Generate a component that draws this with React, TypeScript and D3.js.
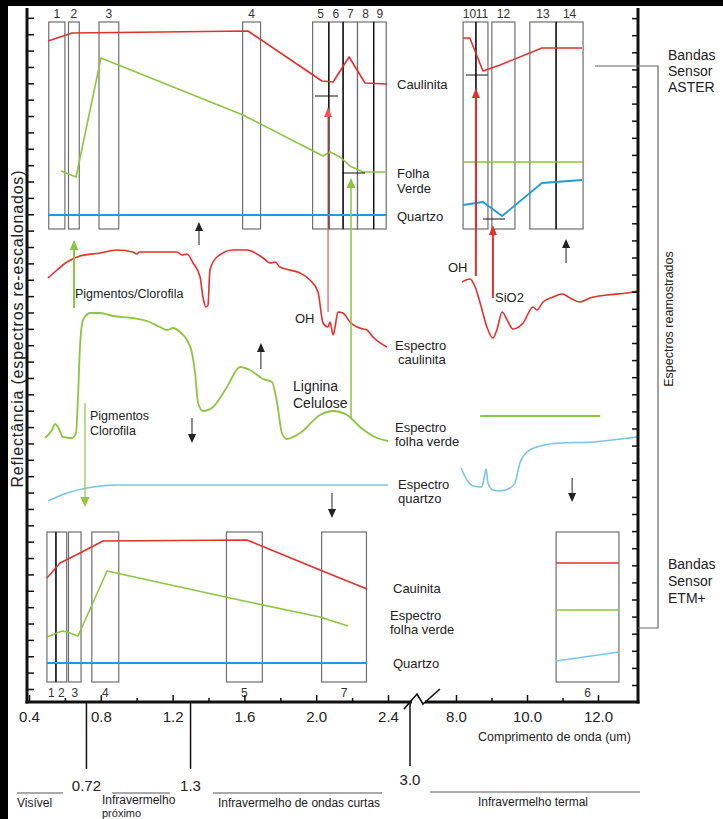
import { useEffect, useRef } from 'react';
import * as d3 from 'd3';

type Pt = [number, number];
type Band = { id: string; lo: number; hi: number };

const FONT = '"Liberation Sans", Arial, Helvetica, sans-serif';
const RED = '#e0312d';
const GREEN = '#8cc540';
const BLUE = '#1f9bd8';
const LIGHTBLUE = '#7cc4e6';
const BOX = '#6f6f6f';
const INK = '#222';

// ASTER bands (um)
const asterBandsVs: Band[] = [
  { id: '1', lo: 0.51, hi: 0.6 },
  { id: '2', lo: 0.62, hi: 0.68 },
  { id: '3', lo: 0.79, hi: 0.9 },
  { id: '4', lo: 1.59, hi: 1.69 },
  { id: '5', lo: 1.98, hi: 2.07 },
  { id: '6', lo: 2.07, hi: 2.15 },
  { id: '7', lo: 2.15, hi: 2.23 },
  { id: '8', lo: 2.23, hi: 2.32 },
  { id: '9', lo: 2.32, hi: 2.39 },
];
const asterBandsTir: Band[] = [
  { id: '10', lo: 8.2, hi: 8.56 },
  { id: '11', lo: 8.56, hi: 8.9 },
  { id: '12', lo: 9.01, hi: 9.66 },
  { id: '13', lo: 10.08, hi: 10.82 },
  { id: '14', lo: 10.82, hi: 11.58 },
];
const asterDividersVs = [2.07, 2.15, 2.32];
const asterDividersTir = [8.56, 10.82];

// ETM+ bands (um)
const etmBandsVs: Band[] = [
  { id: '1', lo: 0.5, hi: 0.55 },
  { id: '2', lo: 0.55, hi: 0.61 },
  { id: '3', lo: 0.62, hi: 0.69 },
  { id: '4', lo: 0.75, hi: 0.9 },
  { id: '5', lo: 1.5, hi: 1.7 },
  { id: '7', lo: 2.03, hi: 2.28 },
];
const etmBandsTir: Band[] = [{ id: '6', lo: 10.82, hi: 12.59 }];
const etmDividersVs = [0.55];

// ASTER resampled spectra [um, reflectance]
const asterKaolVs: Pt[] = [[0.506, 66.1], [0.64, 66.9], [1.62, 67.1], [2.032, 62.1], [2.094, 62.0], [2.183, 64.5], [2.272, 61.9], [2.394, 61.8]];
const asterKaolTir: Pt[] = [[8.2, 66.4], [8.39, 66.4], [8.76, 63.1], [9.24, 63.7], [10.42, 65.4], [11.55, 65.4]];
const asterLeafVs: Pt[] = [[0.578, 53.1], [0.662, 52.5], [0.801, 64.4], [1.592, 58.7], [2.038, 54.6], [2.077, 55.0], [2.133, 54.5], [2.188, 53.6], [2.261, 53.0], [2.394, 53.0]];
const asterLeafTir: Pt[] = [[8.2, 54.0], [11.58, 54.0]];
const asterQtzVs: Pt[] = [[0.506, 48.7], [2.394, 48.7]];
const asterQtzTir: Pt[] = [[8.2, 49.7], [8.76, 50.0], [9.3, 48.6], [10.42, 51.9], [11.55, 52.2]];

// full library spectra [um, reflectance]
const kaolSpecVs: Pt[] = [
  [0.506, 42.4], [0.556, 43.2], [0.612, 44.0], [0.684, 44.6], [0.796, 44.9], [0.89, 45.2], [0.979, 45.0],
  [1.002, 44.8], [1.013, 45.0], [1.225, 45.0], [1.252, 44.7], [1.28, 44.8], [1.314, 43.9], [1.353, 42.5],
  [1.369, 40.5], [1.386, 39.5], [1.397, 39.7], [1.408, 43.2], [1.447, 44.5], [1.537, 45.2], [1.614, 45.2],
  [1.704, 44.4], [1.743, 43.9], [1.771, 44.0], [1.798, 43.5], [1.854, 43.2], [1.91, 42.9], [1.965, 42.2],
  [2.01, 41.0], [2.038, 37.9], [2.066, 37.5], [2.077, 38.0], [2.094, 36.7], [2.105, 37.5], [2.121, 39.0],
  [2.149, 38.9], [2.188, 38.0], [2.227, 37.5], [2.261, 37.3], [2.283, 37.2], [2.316, 36.5], [2.394, 35.5],
];
const kaolSpecTir: Pt[] = [
  [8.17, 42.0], [8.39, 42.3], [8.54, 41.5], [8.68, 39.9], [8.87, 37.5], [9.04, 36.4], [9.15, 37.2], [9.3, 39.0],
  [9.44, 38.2], [9.61, 37.3], [9.89, 37.9], [10.17, 39.5], [10.28, 39.2], [10.45, 40.0], [10.73, 40.5],
  [10.99, 40.8], [11.21, 40.4], [11.49, 40.0], [11.77, 40.4], [12.25, 40.7], [12.82, 40.9], [13.1, 41.1],
];
const leafSpecVs: Pt[] = [
  [0.489, 26.4], [0.528, 27.2], [0.545, 27.8], [0.562, 27.5], [0.589, 26.5], [0.64, 26.4], [0.662, 26.9],
  [0.673, 30.5], [0.684, 35.5], [0.701, 38.2], [0.74, 38.9], [0.796, 38.9], [0.868, 38.6], [0.979, 38.4],
  [1.057, 38.1], [1.13, 37.5], [1.169, 37.2], [1.202, 37.4], [1.241, 37.0], [1.28, 36.2], [1.308, 34.9],
  [1.325, 32.9], [1.342, 29.9], [1.369, 29.1], [1.425, 29.5], [1.503, 31.5], [1.576, 33.5], [1.631, 33.2],
  [1.704, 32.3], [1.754, 32.0], [1.782, 29.9], [1.809, 26.9], [1.837, 26.3], [1.91, 26.9], [2.021, 28.7],
  [2.094, 29.1], [2.172, 28.7], [2.244, 27.5], [2.339, 26.4], [2.4, 26.1],
];
const leafSpecTir: Pt[] = [[8.68, 28.6], [12.06, 28.6]];
const qtzSpecVs: Pt[] = [[0.506, 20.1], [0.612, 20.9], [0.723, 21.4], [0.89, 21.7], [1.169, 21.7], [2.4, 21.7]];
const qtzSpecTir: Pt[] = [
  [8.14, 23.4], [8.31, 22.2], [8.48, 21.6], [8.73, 21.5], [8.79, 22.4], [8.85, 23.3], [8.9, 21.9], [9.04, 21.2],
  [9.24, 21.1], [9.52, 21.4], [9.66, 21.9], [9.8, 23.9], [10.0, 25.0], [10.37, 25.6], [10.93, 25.9],
  [11.86, 26.0], [12.62, 26.3], [13.1, 26.5],
];

// ETM+ resampled spectra
const etmKaolVs: Pt[] = [[0.5, 12.4], [0.573, 13.9], [0.684, 14.9], [0.812, 16.1], [1.614, 16.2], [2.021, 13.2], [2.283, 11.3]];
const etmLeafVs: Pt[] = [[0.5, 6.5], [0.584, 7.1], [0.612, 7.0], [0.673, 6.6], [0.835, 13.1], [1.52, 10.4], [2.021, 8.5], [2.177, 7.6]];
const etmQtzVs: Pt[] = [[0.5, 3.9], [2.283, 3.9]];
const etmKaolTir: Pt[] = [[10.82, 13.9], [12.59, 13.9]];
const etmLeafTir: Pt[] = [[10.82, 9.2], [12.59, 9.2]];
const etmQtzTir: Pt[] = [[10.82, 4.1], [12.59, 5.0]];

// x axis ticks
const visLabels = [0.4, 0.8, 1.2, 1.6, 2.0, 2.4];
const visMinor = [0.6, 1.0, 1.4, 1.8, 2.2];
const tirLabels = [8, 10, 12];
const tirMinor = [9, 11];
const regionLimits = [0.72, 1.3];

function App() {
  const svgRef = useRef<SVGSVGElement>(null);
  const mountedRef = useRef(false);

  useEffect(() => {
    if (mountedRef.current) return;
    mountedRef.current = true;
    const svg = d3.select(svgRef.current);
    const W = 723;
    const H = 819;
    const axisY = 702;
    const leftX = 27;
    const rightX = 638;
    const top = 8;

    const y = d3.scaleLinear().domain([0, 69.4]).range([axisY, top]);
    const xv = d3.scaleLinear().domain([0.4, 2.4]).range([29, 388]);
    const xt = d3.scaleLinear().domain([8, 12]).range([456, 598]);

    svg.append('rect').attr('width', W).attr('height', H).attr('fill', '#fff');
    svg.append('rect').attr('width', W).attr('height', 6).attr('fill', '#000');
    svg.append('rect').attr('width', 8).attr('height', H).attr('fill', '#000');

    const g = svg.append('g').attr('font-family', FONT).attr('fill', INK);

    const txt = (x: number, yy: number, s: string, size = 13, anchor = 'start') =>
      g.append('text').attr('x', x).attr('y', yy).attr('font-size', size).attr('text-anchor', anchor).attr('fill', INK).text(s);

    // band boxes
    const boxes = (bands: Band[], xs: d3.ScaleLinear<number, number>, lo: number, hi: number, labelY: number) => {
      const bg = g.append('g');
      bg.selectAll('rect').data(bands).enter().append('rect')
        .attr('x', (d) => xs(d.lo)).attr('width', (d) => xs(d.hi) - xs(d.lo))
        .attr('y', y(hi)).attr('height', y(lo) - y(hi))
        .attr('fill', 'none').attr('stroke', BOX).attr('stroke-width', 1.2);
      bg.selectAll('text').data(bands).enter().append('text')
        .attr('x', (d) => xs((d.lo + d.hi) / 2)).attr('y', labelY)
        .attr('text-anchor', 'middle').attr('font-size', 12).attr('fill', '#333')
        .text((d) => d.id);
    };
    const dividers = (vals: number[], xs: d3.ScaleLinear<number, number>, lo: number, hi: number) => {
      g.append('g').selectAll('line').data(vals).enter().append('line')
        .attr('x1', (d) => xs(d)).attr('x2', (d) => xs(d))
        .attr('y1', y(hi)).attr('y2', y(lo)).attr('stroke', '#111').attr('stroke-width', 1.3);
    };
    boxes(asterBandsVs, xv, 47.3, 68.0, 18);
    boxes(asterBandsTir, xt, 47.3, 68.0, 18);
    dividers(asterDividersVs, xv, 47.3, 68.0);
    dividers(asterDividersTir, xt, 47.3, 68.0);
    boxes(etmBandsVs, xv, 2.0, 17.0, 697);
    boxes(etmBandsTir, xt, 2.0, 17.0, 697);
    dividers(etmDividersVs, xv, 2.0, 17.0);

    // curves
    const draw = (data: Pt[], xs: d3.ScaleLinear<number, number>, color: string, w = 1.6, smooth = false) => {
      const line = d3.line<Pt>().x((d) => xs(d[0])).y((d) => y(d[1]));
      if (smooth) line.curve(d3.curveMonotoneX);
      g.append('path').attr('d', line(data)).attr('fill', 'none').attr('stroke', color)
        .attr('stroke-width', w).attr('stroke-linejoin', 'round');
    };
    draw(asterKaolVs, xv, RED);
    draw(asterKaolTir, xt, RED);
    draw(asterLeafVs, xv, GREEN);
    draw(asterLeafTir, xt, GREEN);
    draw(asterQtzVs, xv, BLUE, 1.8);
    draw(asterQtzTir, xt, BLUE, 1.8);
    draw(kaolSpecVs, xv, RED, 1.6, true);
    draw(kaolSpecTir, xt, RED, 1.6, true);
    draw(leafSpecVs, xv, GREEN, 1.8, true);
    draw(leafSpecTir, xt, GREEN, 1.8);
    draw(qtzSpecVs, xv, LIGHTBLUE, 1.6, true);
    draw(qtzSpecTir, xt, LIGHTBLUE, 1.6, true);
    draw(etmKaolVs, xv, RED);
    draw(etmLeafVs, xv, GREEN);
    draw(etmQtzVs, xv, BLUE, 1.8);
    draw(etmKaolTir, xt, RED);
    draw(etmLeafTir, xt, GREEN);
    draw(etmQtzTir, xt, LIGHTBLUE);

    // markers and arrows
    const mark = (xs: d3.ScaleLinear<number, number>, a: number, b: number, v: number) =>
      g.append('line').attr('x1', xs(a)).attr('x2', xs(b)).attr('y1', y(v)).attr('y2', y(v))
        .attr('stroke', '#111').attr('stroke-width', 1);
    const arrow = (xs: d3.ScaleLinear<number, number>, at: number, from: number, to: number, color: string, sw: number, hw = 8, hh = 10) => {
      const px = xs(at);
      const y0 = y(from);
      const y1 = y(to);
      const dir = y1 < y0 ? 1 : -1;
      g.append('line').attr('x1', px).attr('x2', px).attr('y1', y0).attr('y2', y1 + dir * hh * 0.6)
        .attr('stroke', color).attr('stroke-width', sw);
      g.append('path')
        .attr('d', `M${px},${y1}L${px - hw / 2},${y1 + dir * hh}L${px + hw / 2},${y1 + dir * hh}Z`)
        .attr('fill', color);
    };
    mark(xv, 1.993, 2.121, 60.6);
    mark(xv, 2.144, 2.272, 52.9);
    mark(xt, 8.28, 8.9, 62.7);
    mark(xt, 8.76, 9.38, 48.3);
    arrow(xv, 2.066, 39.0, 59.5, '#e45a58', 1.2, 8, 10);
    arrow(xv, 2.194, 28.4, 52.4, GREEN, 1.5, 9, 10);
    arrow(xt, 8.56, 42.6, 61.4, RED, 2, 8, 10);
    arrow(xt, 9.04, 40.4, 47.7, RED, 2, 8, 10);
    arrow(xv, 0.651, 39.4, 46.2, GREEN, 2, 9, 10);
    arrow(xv, 0.712, 29.9, 19.5, GREEN, 1.2, 9, 10);
    arrow(xv, 1.347, 45.7, 48.0, '#222', 1, 8, 9);
    arrow(xt, 11.1, 43.9, 46.3, '#222', 1, 8, 9);
    arrow(xv, 1.692, 33.3, 35.9, '#222', 1, 8, 9);
    arrow(xv, 1.308, 28.4, 25.9, '#222', 1, 8, 9);
    arrow(xv, 2.088, 20.9, 18.4, '#222', 1, 8, 9);
    arrow(xt, 11.27, 22.4, 20.0, '#222', 1, 8, 9);

    // left / right axes
    const leftTicks = d3.range(42).map((i) => 1.3 + i * 1.637);
    const rightTicks = d3.range(40).map((i) => 1.7 + i * 1.71);
    const la = g.append('g').attr('transform', `translate(${leftX},0)`)
      .call(d3.axisRight(y).tickValues(leftTicks).tickSize(7).tickFormat(() => ''));
    la.select('.domain').remove();
    la.selectAll('line').attr('stroke', '#111').attr('stroke-width', 1.5);
    const ra = g.append('g').attr('transform', `translate(${rightX},0)`)
      .call(d3.axisLeft(y).tickValues(rightTicks).tickSize(6).tickFormat(() => ''));
    ra.select('.domain').remove();
    ra.selectAll('line').attr('stroke', '#111').attr('stroke-width', 1.5);
    g.append('line').attr('x1', leftX).attr('x2', leftX).attr('y1', top).attr('y2', axisY + 1.5)
      .attr('stroke', '#111').attr('stroke-width', 3);
    g.append('line').attr('x1', rightX).attr('x2', rightX).attr('y1', top).attr('y2', axisY + 1.5)
      .attr('stroke', '#111').attr('stroke-width', 3);

    // bottom axis
    const bottom = (xs: d3.ScaleLinear<number, number>, major: number[], minor: number[]) => {
      const mi = g.append('g').attr('transform', `translate(0,${axisY})`)
        .call(d3.axisBottom(xs).tickValues(minor).tickSizeInner(-4).tickSizeOuter(0).tickFormat(() => ''));
      mi.select('.domain').remove();
      mi.selectAll('line').attr('stroke', '#111').attr('stroke-width', 1.5);
      const ma = g.append('g').attr('transform', `translate(0,${axisY})`)
        .call(d3.axisBottom(xs).tickValues(major).tickSizeInner(-7).tickSizeOuter(0).tickPadding(9)
          .tickFormat((d) => d3.format('.1f')(d as number)));
      ma.select('.domain').remove();
      ma.selectAll('line').attr('stroke', '#111').attr('stroke-width', 1.5);
      ma.selectAll('text').attr('font-size', 15).attr('font-family', FONT).attr('fill', INK);
      ma.attr('font-family', FONT);
    };
    bottom(xv, visLabels, visMinor);
    bottom(xt, tirLabels, tirMinor);
    g.append('line').attr('x1', leftX - 1.5).attr('x2', 412).attr('y1', axisY).attr('y2', axisY)
      .attr('stroke', '#111').attr('stroke-width', 3);
    g.append('line').attr('x1', 425).attr('x2', rightX + 1.5).attr('y1', axisY).attr('y2', axisY)
      .attr('stroke', '#111').attr('stroke-width', 3);
    g.append('path').attr('d', 'M404,709L417,694L423,704L440,689')
      .attr('fill', 'none').attr('stroke', '#111').attr('stroke-width', 1.6);

    // region limits
    g.append('g').selectAll('line').data(regionLimits).enter().append('line')
      .attr('x1', (d) => xv(d)).attr('x2', (d) => xv(d)).attr('y1', axisY).attr('y2', 769)
      .attr('stroke', '#111').attr('stroke-width', 1.5);
    g.append('line').attr('x1', 410).attr('x2', 410).attr('y1', axisY).attr('y2', 766)
      .attr('stroke', '#111').attr('stroke-width', 1.5);
    txt(xv(0.72), 791, '0.72', 15, 'middle');
    txt(xv(1.3), 791, '1.3', 15, 'middle');
    txt(410, 785, '3.0', 15, 'middle');
    const seg = (a: number, b: number, yy: number) =>
      g.append('line').attr('x1', a).attr('x2', b).attr('y1', yy).attr('y2', yy).attr('stroke', '#555').attr('stroke-width', 1);
    seg(17, 63, 793);
    seg(112, 170, 793);
    seg(213, 382, 793);
    seg(430, 640, 792);
    txt(17, 807, 'Visível', 12);
    txt(102, 804, 'Infravermelho', 12);
    txt(102, 816.5, 'próximo', 11);
    txt(218, 807, 'Infravermelho de ondas curtas', 12);
    txt(478, 806, 'Infravermelho termal', 12);
    txt(478, 741, 'Comprimento de onda (um)', 12.5);

    // curve labels
    txt(397, 89, 'Caulinita');
    txt(397, 178, 'Folha');
    txt(397, 193, 'Verde');
    txt(397, 221, 'Quartzo');
    txt(395, 350, 'Espectro');
    txt(398, 364, 'caulinita');
    txt(395, 432, 'Espectro');
    txt(395, 446, 'folha verde');
    txt(398, 489, 'Espectro');
    txt(398, 503, 'quartzo');
    txt(393, 593, 'Cauinita');
    txt(390, 620, 'Espectro');
    txt(390, 634, 'folha verde');
    txt(393, 668, 'Quartzo');

    // annotations
    txt(448, 272, 'OH', 13);
    txt(495, 302, 'SiO2', 13);
    txt(295, 323, 'OH', 13);
    txt(75, 298, 'Pigmentos/Clorofila', 12.5);
    txt(293, 391, 'Lignina', 14);
    txt(293, 408, 'Celulose', 14);
    txt(90, 420, 'Pigmentos', 12.5);
    txt(90, 435, 'Clorofila', 12.5);

    // sensor brackets
    const bracket = 'M595,66H658V628H638';
    g.append('path').attr('d', bracket).attr('fill', 'none').attr('stroke', '#666').attr('stroke-width', 1.2);
    txt(668, 60, 'Bandas', 14);
    txt(668, 76, 'Sensor', 14);
    txt(668, 92, 'ASTER', 14);
    txt(668, 569, 'Bandas', 14);
    txt(668, 586, 'Sensor', 14);
    txt(668, 603, 'ETM+', 14);

    g.append('text').attr('transform', 'translate(673,319) rotate(-90)')
      .attr('text-anchor', 'middle').attr('font-size', 12.5).attr('fill', INK)
      .text('Espectros reamostrados');
    g.append('text').attr('transform', 'translate(23,329) rotate(-90)')
      .attr('text-anchor', 'middle').attr('font-size', 16).attr('fill', INK)
      .attr('textLength', 317).attr('lengthAdjust', 'spacing')
      .text('Reflectância (espectros re-escalonados)');
  }, []);

  return (
    <div style={{ position: 'absolute', left: 0, top: 0 }}>
      <svg width="723" height="819" ref={svgRef} style={{ display: 'block' }} />
    </div>
  );
}

export default App;
